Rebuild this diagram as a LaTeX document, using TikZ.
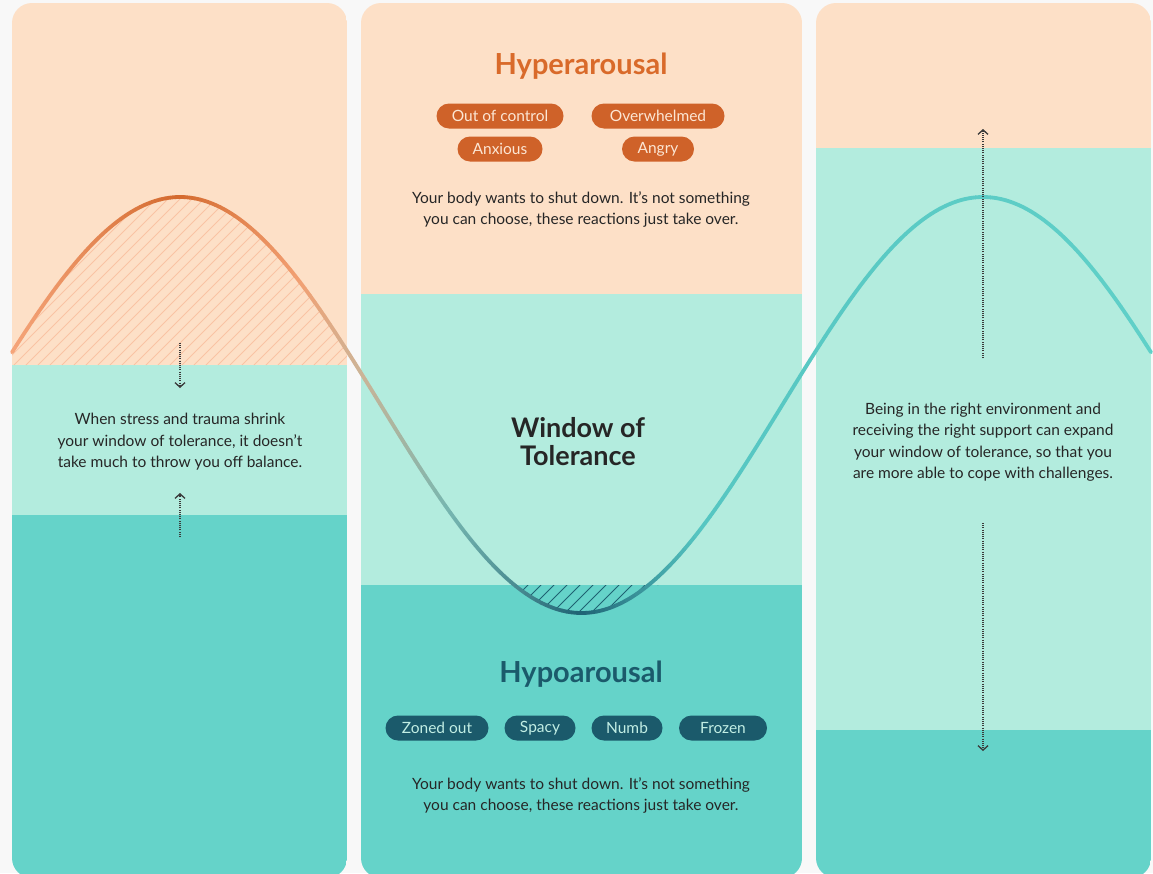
\documentclass[tikz,border=0pt]{standalone}
\usepackage{fontspec}
\setmainfont{Lato}
\usetikzlibrary{arrows.meta}
\definecolor{bg}{HTML}{F8F8F8}
\definecolor{peach}{HTML}{FDE0C7}
\definecolor{mint}{HTML}{B3ECDE}
\definecolor{tealband}{HTML}{65D3C9}
\definecolor{orpill}{HTML}{CF6229}
\definecolor{hyper}{HTML}{D96A2A}
\definecolor{hypo}{HTML}{1B5A6B}
\definecolor{creamtxt}{HTML}{FCE6D4}
\definecolor{minttxt}{HTML}{C2EEE4}
\definecolor{bodytxt}{HTML}{262626}
\definecolor{hatchor}{HTML}{F9C3A4}
\definecolor{hatchtl}{HTML}{1F6272}
\definecolor{arrowc}{HTML}{3A3A3A}
\definecolor{cwA}{RGB}{245,165,122}
\definecolor{cwB}{RGB}{212,106,46}
\definecolor{cwC}{RGB}{242,160,115}
\definecolor{cwD}{RGB}{205,180,150}
\definecolor{cwE}{RGB}{118,182,176}
\definecolor{cwF}{RGB}{30,98,116}
\definecolor{cwG}{RGB}{86,198,194}
\definecolor{cwH}{RGB}{96,208,200}
\tikzset{
  pillO/.style={fill=orpill, rounded corners=12.5pt, minimum height=25pt, inner ysep=0pt, inner xsep=4pt, text=creamtxt, font=\fontsize{15.5}{16}\selectfont},
  pillT/.style={fill=hypo, rounded corners=12.5pt, minimum height=25pt, inner ysep=0pt, inner xsep=4pt, text=minttxt, font=\fontsize{15.5}{16}\selectfont},
  bodytext/.style={text=bodytxt, align=center, font=\fontsize{15.5}{21.5}\selectfont},
  heading/.style={font=\bfseries\fontsize{29}{30}\selectfont},
  dotarrow/.style={draw=arrowc, line width=1.1pt, dash pattern=on 1pt off 1.2pt, -{Straight Barb[length=4.5pt,width=10pt,line width=1.3pt]}},
}
\begin{document}
\begin{tikzpicture}[x=1pt,y=-1pt, declare function={wy(\t)=405-208*cos((\t-180)*0.448319);}]
\useasboundingbox (0,0) rectangle (1153,873);
\fill[bg] (0,0) rectangle (1153,873);
% panels
\foreach \xl/\xr/\ya/\yb in {12/347/365/515, 361/802/294/585, 816/1151/148/730} {
  \begin{scope}
    \clip[rounded corners=20pt] (\xl,3) rectangle (\xr,878);
    \fill[peach] (\xl,0) rectangle (\xr,\ya);
    \fill[mint] (\xl,\ya) rectangle (\xr,\yb);
    \fill[tealband] (\xl,\yb) rectangle (\xr,880);
  \end{scope}
}
% hatch left
\begin{scope}
  \clip (12,0) rectangle (347,365);
  \clip (12,365) -- plot[domain=12:357,samples=80] (\x,{wy(\x)}) -- (357,365) -- cycle;
  \foreach \k in {-190,-178,...,360} \draw[hatchor, line width=0.9pt] (\k,365) -- ++(200,-200);
\end{scope}
% hatch middle
\begin{scope}
  \clip (480,585) rectangle (690,640);
  \clip (500,585) -- plot[domain=500:664,samples=60] (\x,{wy(\x)}) -- (664,585) -- cycle;
  \foreach \k in {480,493,...,680} \draw[hatchtl, line width=0.9pt] (\k,620) -- ++(40,-40);
\end{scope}
% wave with gradient
\foreach \xa/\xb/\ca/\cb in {12/180/cwA/cwB, 180/300/cwB/cwC, 300/360/cwC/cwD, 360/450/cwD/cwE, 450/582/cwE/cwF, 582/700/cwF/cwG, 700/1151/cwG/cwH} {
  \pgfmathtruncatemacro{\n}{max(2,round((\xb-\xa)/5))}
  \pgfmathsetmacro{\dx}{(\xb-\xa)/\n}
  \foreach \i in {1,...,\n} {
    \pgfmathsetmacro{\xs}{\xa+\dx*(\i-1)}
    \pgfmathsetmacro{\xe}{\xa+\dx*\i}
    \pgfmathsetmacro{\pc}{(\i-0.5)/\n*100}
    \draw[line width=3.8pt, line cap=round, color=\cb!\pc!\ca] plot[domain=\xs:\xe, samples=3, smooth] (\x,{wy(\x)});
  }
}
% headings
\node[heading, text=hyper] (hyper) at (581,66.5) {Hyperarousal};
\node[heading, text=hypo] (hypo) at (581,674) {Hypoarousal};
\node[text=bodytxt, align=center, font=\bfseries\fontsize{27}{28}\selectfont] (wot) at (578,442) {Window of\\Tolerance};
% pills
\node[pillO, minimum width=127pt] (p1) at (500,116) {Out of control};
\node[pillO, minimum width=133pt] (p2) at (658,116) {Overwhelmed};
\node[pillO, minimum width=85pt] (p3) at (500,149) {Anxious};
\node[pillO, minimum width=72pt] (p4) at (658,149) {Angry};
\node[pillT, minimum width=103pt] (q1) at (437,728) {Zoned out};
\node[pillT, minimum width=71pt] (q2) at (540,728) {Spacy};
\node[pillT, minimum width=71pt] (q3) at (627,728) {Numb};
\node[pillT, minimum width=88pt] (q4) at (723,728) {Frozen};
% body texts
\node[bodytext] (t1) at (581,209.5) {Your body wants to shut down. It’s not something\\you can choose, these reactions just take over.};
\node[bodytext] (t2) at (581,795.5) {Your body wants to shut down. It’s not something\\you can choose, these reactions just take over.};
\node[bodytext] (tl) at (180,442) {When stress and trauma shrink\\your window of tolerance, it doesn’t\\take much to throw you off balance.};
\node[bodytext] (tr) at (983,442) {Being in the right environment and\\receiving the right support can expand\\your window of tolerance, so that you\\are more able to cope with challenges.};
% dotted arrows
\coordinate (la1) at (180,343);
\coordinate (la2) at (180,388);
\coordinate (lb1) at (180,537);
\coordinate (lb2) at (180,493);
\coordinate (ra1) at (983,358);
\coordinate (ra2) at (983,129);
\coordinate (rb1) at (983,523);
\coordinate (rb2) at (983,751);
\draw[dotarrow] (la1) -- (la2);
\draw[dotarrow] (lb1) -- (lb2);
\draw[dotarrow] (ra1) -- (ra2);
\draw[dotarrow] (rb1) -- (rb2);
\end{tikzpicture}
\end{document}
